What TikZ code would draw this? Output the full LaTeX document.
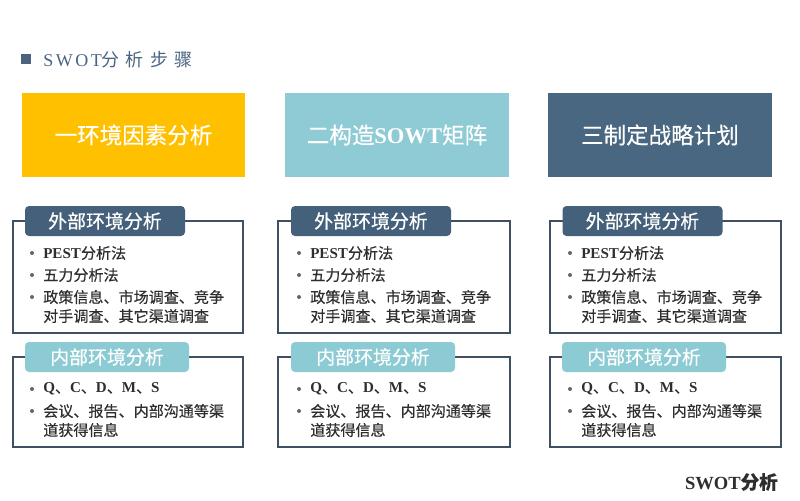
\documentclass[tikz,border=0pt]{standalone}
\usepackage{fontspec}
\setmainfont{Liberation Serif}
\newfontfamily\cjk[FakeBold=0.35]{Noto Sans CJK SC}
\newfontfamily\titlelat[LetterSpace=14]{Liberation Serif}
\newfontfamily\titlecjk[LetterSpace=34]{Noto Sans CJK SC}
\newcommand\latb[1]{{\rmfamily\bfseries #1}}
\definecolor{cyellow}{HTML}{FFC000}
\definecolor{cteal}{HTML}{8ECBD4}
\definecolor{cdark}{HTML}{4A6781}
\definecolor{chdr}{HTML}{45607A}
\definecolor{chdrin}{HTML}{8DCBD4}
\definecolor{cframe}{HTML}{3E5062}
\definecolor{ctext}{HTML}{2E2E2E}
\definecolor{ctitle}{HTML}{4A6480}
\definecolor{cbullet}{HTML}{666666}
\begin{document}
\begin{tikzpicture}[x=0.75pt,y=-0.75pt,
  topbox/.style={minimum width=167.5pt, minimum height=63pt, inner sep=0pt, text=white,
    font=\fontsize{16.9}{20}\selectfont\cjk},
  hdr/.style={rounded corners=3pt, minimum height=22.5pt, inner sep=0pt, text=white,
    font=\fontsize{14.2}{16}\selectfont\cjk},
  frm/.style={draw=cframe, line width=1.5pt},
  item/.style={anchor=west, align=left, inner sep=0pt, text=ctext,
    font=\fontsize{11.3}{14.25}\selectfont\cjk},
  dot/.style={circle, fill=cbullet, inner sep=0pt, minimum size=3pt}]
\useasboundingbox (0,0) rectangle (800,500);

% title
\fill[ctitle] (21,54) rectangle (31,64);
\node[anchor=west, inner sep=0pt, text=ctitle] (title) at (43,60)
  {\fontsize{13.5}{16}\selectfont{\titlelat SWOT}{\titlecjk 分析步骤}};

% top boxes
\node[topbox, fill=cyellow] (t1) at (133.5,135) {一环境因素分析};
\node[topbox, fill=cteal] (t2) at (397,135) {二构造\latb{SOWT}矩阵};
\node[topbox, fill=cdark] (t3) at (660,135) {三制定战略计划};

\foreach \i/\fl/\fr/\hc/\hic/\tx in {1/13/243/105/107/43, 2/278/510/371/373/310, 3/550/781/642.5/644/581}{
  % outer frame and header
  \draw[frm] (\fl,221) rectangle (\fr,333);
  \node[hdr, fill=chdr, minimum width=120pt] (ho\i) at (\hc,221) {外部环境分析};
  \node[dot] (b1\i) at (\tx-11,253) {};
  \node[item] (p1\i) at (\tx,253) {\latb{PEST}分析法};
  \node[dot] (b2\i) at (\tx-11,275) {};
  \node[item] (p2\i) at (\tx,275) {五力分析法};
  \node[dot] (b3\i) at (\tx-11,297) {};
  \node[item] (p3\i) at (\tx,306.5) {政策信息、市场调查、竞争\\对手调查、其它渠道调查};
  % inner frame and header
  \draw[frm] (\fl,357) rectangle (\fr,447);
  \node[hdr, fill=chdrin, minimum width=123pt] (hi\i) at (\hic,357) {内部环境分析};
  \node[dot] (b4\i) at (\tx-11,389) {};
  \node[item] (q1\i) at (\tx,389) {\latb{Q}、\latb{C}、\latb{D}、\latb{M}、\latb{S}};
  \node[dot] (b5\i) at (\tx-11,411) {};
  \node[item] (q2\i) at (\tx,420.5) {会议、报告、内部沟通等渠\\道获得信息};
}

% footer
\node[anchor=east, inner sep=0pt, text=ctext] (foot) at (778,482)
  {\fontsize{13.9}{16}\selectfont\latb{SWOT}{\cjk\bfseries 分析}};
\end{tikzpicture}
\end{document}
